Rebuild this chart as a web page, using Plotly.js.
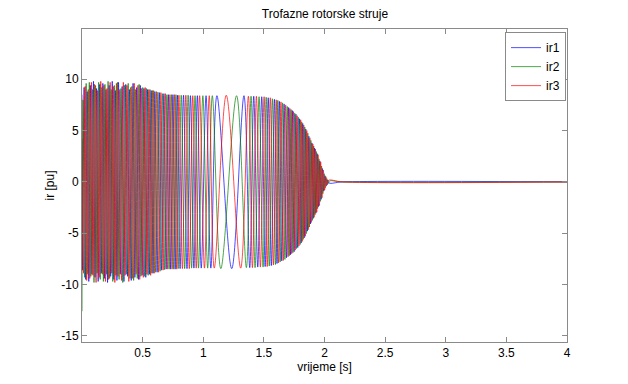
<!DOCTYPE html>
<html>
<head>
<meta charset="utf-8">
<script src="https://cdn.plot.ly/plotly-3.0.1.min.js"></script>
<style>html,body{margin:0;padding:0;background:#fff;}#chart{width:628px;height:384px;}</style>
</head>
<body>
<div id="chart"></div>
<script>
// Peaks / troughs of each rotor phase current (time in s, current in pu)
const t1 = [0.0000,0.0043,0.0172,0.0301,0.0430,0.0559,0.0688,0.0817,0.0946,0.1075,0.1204,0.1333,0.1462,0.1591,0.1720,0.1849,0.1978,0.2107,0.2236,0.2365,0.2494,0.2623,0.2752,0.2881,0.3010,0.3160,0.3310,0.3460,0.3610,0.3760,0.3910,0.4060,0.4210,0.4360,0.4510,0.4660,0.4810,0.4960,0.5110,0.5260,0.5410,0.5560,0.5710,0.5860,0.6010,0.6196,0.6382,0.6568,0.6754,0.6940,0.7126,0.7312,0.7498,0.7684,0.7870,0.8089,0.8374,0.8659,0.8944,0.9229,0.9514,0.9836,1.0232,1.0628,1.1128,1.2348,1.3358,1.3834,1.4164,1.4494,1.4824,1.5104,1.5359,1.5614,1.5869,1.6084,1.6279,1.6474,1.6669,1.6864,1.7044,1.7194,1.7344,1.7494,1.7644,1.7794,1.7944,1.8078,1.8204,1.8330,1.8456,1.8582,1.8708,1.8834,1.8960,1.9074,1.9182,1.9290,1.9398,1.9506,1.9614,1.9722,1.9830,1.9938,2.0046,2.0154,2.0262,2.0370,2.15,4.0];
const ir1 = [4.2,-8.6,9.2,-9.5,8.8,-9.7,9.4,-9.0,9.8,-9.3,9.1,-9.7,9.5,-8.9,9.6,-9.4,9.0,-9.8,9.4,-9.2,9.8,-9.5,8.9,-9.6,9.7,-9.0,9.3,-9.7,9.5,-9.2,9.0,-9.6,9.6,-9.3,9.2,-9.5,9.4,-9.1,9.1,-9.3,9.0,-9.0,8.9,-8.9,8.8,-8.8,8.7,-8.6,8.6,-8.5,8.5,-8.5,8.5,-8.5,8.45,-8.45,8.45,-8.45,8.4,-8.4,8.4,-8.4,8.4,-8.4,8.4,-8.45,8.4,-8.35,8.35,-8.3,8.3,-8.25,8.2,-8.15,8.05,-7.95,7.85,-7.7,7.6,-7.4,7.25,-7.1,6.95,-6.8,6.6,-6.4,6.15,-5.95,5.7,-5.45,5.15,-4.8,4.45,-4.1,3.8,-3.55,3.3,-3.05,2.75,-2.4,2.05,-1.7,1.3,-0.9,0.6,-0.38,0.2,-0.1,0,0];

const t2 = [0.0000,0.0086,0.0215,0.0344,0.0473,0.0602,0.0731,0.0860,0.0989,0.1118,0.1247,0.1376,0.1505,0.1634,0.1763,0.1892,0.2021,0.2150,0.2279,0.2408,0.2537,0.2666,0.2795,0.2924,0.3060,0.3210,0.3360,0.3510,0.3660,0.3810,0.3960,0.4110,0.4260,0.4410,0.4560,0.4710,0.4860,0.5010,0.5160,0.5310,0.5460,0.5610,0.5760,0.5910,0.6072,0.6258,0.6444,0.6630,0.6816,0.7002,0.7188,0.7374,0.7560,0.7746,0.7932,0.8184,0.8469,0.8754,0.9039,0.9324,0.9609,0.9968,1.0364,1.0748,1.1448,1.2748,1.3558,1.3944,1.4274,1.4604,1.4934,1.5189,1.5444,1.5699,1.5954,1.6149,1.6344,1.6539,1.6734,1.6929,1.7094,1.7244,1.7394,1.7544,1.7694,1.7844,1.7994,1.8120,1.8246,1.8372,1.8498,1.8624,1.8750,1.8876,1.9002,1.9110,1.9218,1.9326,1.9434,1.9542,1.9650,1.9758,1.9866,1.9974,2.0082,2.0190,2.0298,2.0406,2.15,4.0];
const ir2 = [-12.6,8.0,-9.3,9.6,-9.0,9.7,-9.2,9.0,-9.8,9.4,-8.9,9.7,-9.5,9.2,-9.7,9.5,-9.0,9.8,-9.4,9.0,-9.7,9.4,-9.1,9.7,-9.5,9.1,-9.8,9.4,-9.0,9.6,-9.4,9.3,-9.6,9.0,-9.4,9.5,-9.2,9.2,-9.2,9.1,-9.1,9.0,-8.9,8.9,-8.8,8.75,-8.7,8.6,-8.55,8.5,-8.5,8.5,-8.5,8.5,-8.45,8.45,-8.45,8.45,-8.4,8.4,-8.4,8.4,-8.4,8.4,-8.45,8.4,-8.35,8.35,-8.35,8.3,-8.3,8.25,-8.2,8.1,-8.05,7.95,-7.8,7.7,-7.55,7.35,-7.2,7.05,-6.9,6.7,-6.5,6.3,-6.1,5.85,-5.6,5.35,-5.05,4.75,-4.4,4.05,-3.75,3.5,-3.2,2.95,-2.6,2.25,-1.9,1.55,-1.15,0.8,-0.55,0.32,-0.18,0.08,0,0];

const t3 = [0.0000,0.0129,0.0258,0.0387,0.0516,0.0645,0.0774,0.0903,0.1032,0.1161,0.1290,0.1419,0.1548,0.1677,0.1806,0.1935,0.2064,0.2193,0.2322,0.2451,0.2580,0.2709,0.2838,0.2967,0.3110,0.3260,0.3410,0.3560,0.3710,0.3860,0.4010,0.4160,0.4310,0.4460,0.4610,0.4760,0.4910,0.5060,0.5210,0.5360,0.5510,0.5660,0.5810,0.5960,0.6134,0.6320,0.6506,0.6692,0.6878,0.7064,0.7250,0.7436,0.7622,0.7808,0.7994,0.8279,0.8564,0.8849,0.9134,0.9419,0.9704,1.0100,1.0496,1.0908,1.1898,1.3088,1.3724,1.4054,1.4384,1.4714,1.5019,1.5274,1.5529,1.5784,1.6019,1.6214,1.6409,1.6604,1.6799,1.6994,1.7144,1.7294,1.7444,1.7594,1.7744,1.7894,1.8036,1.8162,1.8288,1.8414,1.8540,1.8666,1.8792,1.8918,1.9038,1.9146,1.9254,1.9362,1.9470,1.9578,1.9686,1.9794,1.9902,2.0010,2.0118,2.0226,2.0334,2.15,4.0];
const ir3 = [8.5,-8.9,9.3,-9.6,9.0,-9.4,9.7,-9.1,9.5,-9.8,8.9,-9.3,9.8,-9.0,9.4,-9.7,9.1,-9.5,9.7,-8.9,9.3,-9.8,9.6,-9.2,9.0,-9.6,9.7,-9.1,9.4,-9.7,9.2,-9.4,9.6,-9.0,9.4,-9.5,9.1,-9.3,9.2,-9.0,9.0,-9.1,8.9,-8.9,8.8,-8.8,8.7,-8.6,8.6,-8.5,8.5,-8.5,8.5,-8.5,8.45,-8.45,8.45,-8.45,8.4,-8.4,8.4,-8.4,8.4,-8.4,8.45,-8.4,8.35,-8.35,8.35,-8.3,8.3,-8.25,8.2,-8.1,8.0,-7.9,7.8,-7.65,7.5,-7.3,7.15,-7.0,6.85,-6.65,6.45,-6.25,6.05,-5.8,5.55,-5.3,5.0,-4.65,4.3,-3.95,3.7,-3.45,3.2,-2.95,2.65,-2.3,1.95,-1.55,1.15,-0.8,0.5,-0.3,0.15,0,0];

const seriesNames = ['ir1','ir2','ir3'];
const xTicks = [0.5,1,1.5,2,2.5,3,3.5,4];
const yTicks = [-15,-10,-5,0,5,10];

const colors = ['#0000ff','#008000','#ff0000'];
const xs = [t1,t2,t3], ys = [ir1,ir2,ir3];
const traces = seriesNames.map((n,i)=>({
  x: xs[i], y: ys[i], name: n, type:'scatter', mode:'lines',
  line:{color:colors[i], width:0.7, shape:'spline', smoothing:1}
}));

const fontFam = '"Liberation Sans Narrow","Arial Narrow","Liberation Sans",Arial,sans-serif';
const axCommon = {
  showline:true, mirror:'ticks', linecolor:'#8a8a8a', linewidth:1,
  ticks:'inside', ticklen:5, tickcolor:'#8a8a8a', showgrid:false, zeroline:false,
  tickfont:{family:fontFam, size:12, color:'#000'}
};
const layout = {
  width:628, height:384,
  margin:{l:82, r:61, t:29, b:42},
  paper_bgcolor:'#fff', plot_bgcolor:'#fff',
  font:{family:fontFam, size:12, color:'#000'},
  title:{text:'Trofazne rotorske struje', font:{family:fontFam, size:12, color:'#000'}, x:0.5175, xanchor:'center', y:0.963, yanchor:'middle', xref:'container'},
  xaxis:Object.assign({}, axCommon, {range:[0,4], tickvals:xTicks, ticktext:xTicks.map(String),
    title:{text:'vrijeme [s]', font:{family:fontFam, size:12}, standoff:0}}),
  yaxis:Object.assign({}, axCommon, {range:[-15.6,14.9], tickvals:yTicks, ticktext:yTicks.map(String),
    title:{text:'ir [pu]', font:{family:fontFam, size:12}, standoff:4}}),
  showlegend:true,
  legend:{x:0.998, xanchor:'right', y:0.99, yanchor:'top', bgcolor:'#fff', bordercolor:'#8a8a8a', borderwidth:1,
    font:{family:fontFam, size:12}, itemwidth:30, tracegroupgap:0}
};
Plotly.newPlot('chart', traces, layout, {staticPlot:true, displayModeBar:false});
</script>
</body>
</html>
